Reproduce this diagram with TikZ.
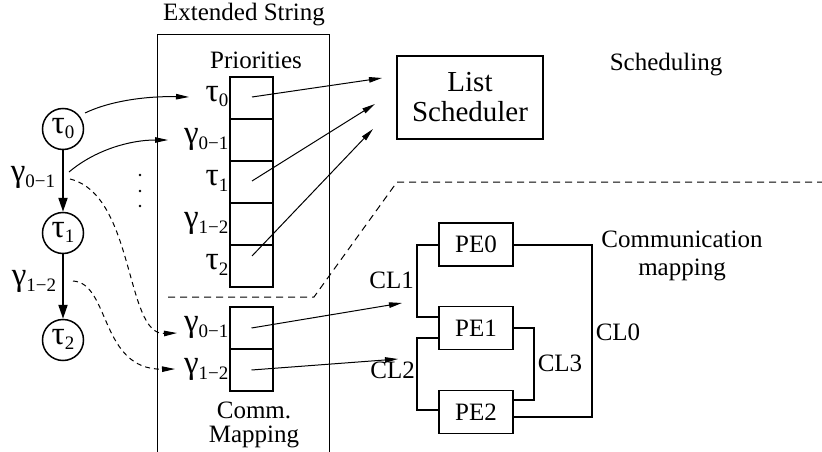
\documentclass[tikz,border=0pt]{standalone}
\usepackage{fontspec}
\setmainfont{Liberation Serif}
\usetikzlibrary{arrows.meta}
\newcommand\subx[1]{\raisebox{-0.22em}{\fontsize{19}{19}\selectfont #1}}
\newcommand\gk[1]{{\fontsize{33}{33}\selectfont #1}}
\begin{document}
\begin{tikzpicture}[x=1pt,y=-1pt,
  base/.style={font=\fontsize{25}{28}\selectfont},
  lbl/.style={base, inner sep=1pt},
  glbl/.style={base, inner sep=0.5pt, text height=13pt, text depth=6pt},
  tcirc/.style={base, draw, line width=1.5pt, circle, minimum size=41pt, inner sep=0pt, text height=13pt, text depth=5pt},
  cell/.style={draw, line width=2pt, minimum width=43pt, minimum height=42pt, inner sep=0pt},
  pebox/.style={base, draw, line width=1.5pt, minimum width=74pt, minimum height=43pt, inner sep=0pt},
  tarr/.style={line width=1pt, -{Triangle[length=13pt,width=5.5pt]}},
  darr/.style={tarr, dash pattern=on 5pt off 4pt},
  bigarr/.style={line width=2pt, -{Triangle[length=14pt,width=9pt]}},
  net/.style={line width=2pt},
  sepline/.style={line width=1pt, dash pattern=on 7pt off 5pt}
]
\useasboundingbox (0,0) rectangle (822,452);

% Extended string frame
\node[base] (ext) at (244,15) {Extended String};
\draw[line width=1pt] (157,452) -- (157,35) -- (329,35) -- (329,452);
\node[base] (prio) at (256,60) {Priorities};

% task graph
\node[tcirc] (t0) at (63,129) {\gk{τ}\subx{0}};
\node[tcirc] (t1) at (63,233) {\gk{τ}\subx{1}};
\node[tcirc] (t2) at (63,340) {\gk{τ}\subx{2}};
\draw[bigarr] (t0) -- (t1);
\draw[bigarr] (t1) -- (t2);
\node[glbl] (g01) at (33,178) {\gk{γ}\subx{0−1}};
\node[glbl] (g12) at (34,282) {\gk{γ}\subx{1−2}};

% priority cells
\node[cell] (p0) at (251.5,98) {};
\node[cell] (p1) at (251.5,140) {};
\node[cell] (p2) at (251.5,182) {};
\node[cell] (p3) at (251.5,224) {};
\node[cell] (p4) at (251.5,266) {};
\node[glbl, anchor=east] (lp0) at (p0.west) {\gk{τ}\subx{0}};
\node[glbl, anchor=east] (lp1) at (p1.west) {\gk{γ}\subx{0−1}};
\node[glbl, anchor=east] (lp2) at (p2.west) {\gk{τ}\subx{1}};
\node[glbl, anchor=east] (lp3) at (p3.west) {\gk{γ}\subx{1−2}};
\node[glbl, anchor=east] (lp4) at (p4.west) {\gk{τ}\subx{2}};

% vertical dots
\fill (140,175) circle (1.4) (140,191) circle (1.4) (140,206) circle (1.4);

% comm cells
\node[cell] (m0) at (251.5,328) {};
\node[cell] (m1) at (251.5,370) {};
\node[glbl, anchor=east] (lm0) at (m0.west) {\gk{γ}\subx{0−1}};
\node[glbl, anchor=east] (lm1) at (m1.west) {\gk{γ}\subx{1−2}};
\node[base, align=center, font=\fontsize{25}{24}\selectfont] (cm) at (254,425) {Comm.\\Mapping};

% separator
\draw[sepline] (168,297) -- (314,297) -- (397,182) -- (822,182);

% list scheduler
\node[draw, line width=1.5pt, minimum width=146pt, minimum height=83pt, align=center,
      font=\fontsize{29}{30}\selectfont] (ls) at (470,97.5) {List\\Scheduler};
\node[base] (sched) at (666,65) {Scheduling};

% arrow coordinates
\coordinate (s0) at (85,113);
\coordinate (a0) at (189,97);
\coordinate (s1) at (69,172);
\coordinate (a1) at (168,140);
\coordinate (s2) at (70,179);
\coordinate (a2) at (177,333);
\coordinate (s3) at (73,281);
\coordinate (a3) at (175,369);
\coordinate (c0) at (252,97);
\coordinate (c2) at (252,181);
\coordinate (c4) at (252,256);
\coordinate (l0) at (382,78);
\coordinate (l1) at (375,104);
\coordinate (l2) at (373,129);
\coordinate (cl1a) at (402,303);
\coordinate (cl2a) at (398,359);

\draw[tarr] (s0) .. controls (112,100) and (150,96) .. (a0);
\draw[tarr] (s1) .. controls (95,150) and (130,140) .. (a1);
\draw[darr] (s2) .. controls (135,195) and (125,335) .. (a2);
\draw[darr] (s3) .. controls (110,283) and (100,370) .. (a3);
\draw[tarr] (c0) -- (l0);
\draw[tarr] (c2) -- (l1);
\draw[tarr] (c4) -- (l2);
\draw[tarr] (m0.center) -- (cl1a);
\draw[tarr] (m1.center) -- (cl2a);

% network
\node[pebox] (pe0) at (476,244.5) {PE0};
\node[pebox] (pe1) at (476,328) {PE1};
\node[pebox] (pe2) at (476,412) {PE2};
\draw[net] (pe0.west) -- ++(-21,0) |- ([yshift=11pt]pe1.west);
\draw[net] ([yshift=-10pt]pe1.west) -- ++(-21,0) |- ([yshift=2pt]pe2.west);
\draw[net] (pe1.east) -- ++(20,0) |- ([yshift=12pt]pe2.east);
\draw[net] (pe0.east) -- ++(78,0) |- ([yshift=-5pt]pe2.east);
\node[lbl, anchor=east] (cl1) at (415,280) {CL1};
\node[lbl, anchor=east] (cl2) at (416,370) {CL2};
\node[lbl] (cl3) at (560,363) {CL3};
\node[lbl] (cl0) at (618,332) {CL0};
\node[base, align=center, font=\fontsize{25}{28}\selectfont] (cmap) at (682,256) {Communication\\mapping};
\end{tikzpicture}
\end{document}
